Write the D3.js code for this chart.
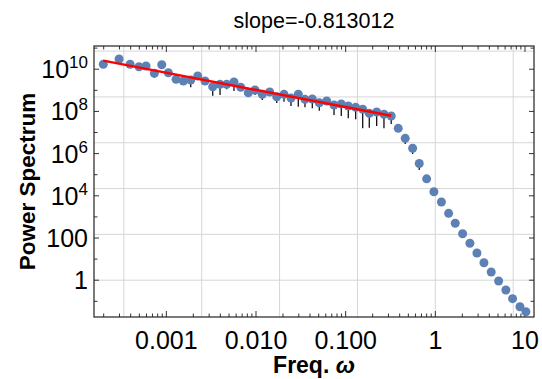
<!DOCTYPE html>
<html>
<head>
<meta charset="utf-8">
<script src="https://cdn.jsdelivr.net/npm/d3@7"></script>
<style>
  body { margin: 0; background: #fff; }
  text { font-family: "Liberation Sans", Arial, sans-serif; }
</style>
</head>
<body>
<div id="chart"></div>
<script>
// frequencies
var freq = [1.98e-4, 2.97e-4, 3.94e-4, 4.96e-4, 5.94e-4, 7.35e-4, 8.89e-4, 1.053e-3, 1.283e-3, 1.547e-3,
  1.871e-3, 2.239e-3, 2.70e-3, 3.29e-3, 3.97e-3, 4.71e-3, 5.68e-3, 6.75e-3, 8.20e-3, 9.75e-3,
  0.01175, 0.01421, 0.01702, 0.02052, 0.02455, 0.02962, 0.03517, 0.04244, 0.05079, 0.06141,
  0.07413, 0.08933, 0.1069, 0.1292, 0.1548, 0.1834, 0.2216, 0.2673, 0.3221, 0.3857,
  0.4616, 0.5582, 0.6615, 0.7998, 0.9638, 1.169, 1.406, 1.667, 2.015, 2.430,
  2.911, 3.483, 4.200, 5.08, 6.12, 7.27, 8.78, 10.23];

// power spectrum values
var power = [1.71e10, 3.04e10, 1.71e10, 1.31e10, 1.42e10, 6.40e9, 1.63e10, 6.82e9, 3.32e9, 2.76e9,
  3.08e9, 4.76e9, 2.76e9, 1.48e9, 1.92e9, 1.92e9, 2.47e9, 1.39e9, 7.69e8, 1.03e9,
  6.46e8, 8.30e8, 4.98e8, 6.46e8, 4.32e8, 6.53e8, 3.74e8, 3.87e8, 2.58e8, 3.11e8,
  2.01e8, 2.24e8, 1.80e8, 1.56e8, 1.26e8, 8.13e7, 9.37e7, 7.29e7, 6.05e7, 1.58e7,
  5.31e6, 1.80e6, 3.40e5, 6.39e4, 1.56e4, 5.08e3, 1.48e3, 498, 160, 56.1,
  19.5, 6.75, 2.45, 0.916, 0.343, 0.133, 0.0555, 0.0321];

// lower end of the error bars (null = hidden under the marker)
var errLow = [null, null, null, null, null, 3.95e9, null, null, null, null,
  1.39e9, null, null, 5.55e8, 5.99e8, 1.11e9, 9.27e8, null, null, 5.99e8,
  3.47e8, null, 2.50e8, 2.88e8, 1.80e8, 1.67e8, 1.56e8, 1.40e8, 1.08e8, 2.01e8,
  6.75e7, 6.05e7, 4.71e7, 4.22e7, 1.58e7, 1.69e7, 2.03e7, 1.58e7, 2.53e7, null,
  2.85e6, 9.57e5, 1.67e5, null, null, null, null, null, null, null,
  null, null, null, null, null, null, null, null];

// fitted power law
var slope = -0.813012;
var fitIntercept = 2.47e7;
var fitRange = [1.98e-4, 0.3221];

var xTickLabels = [[0.001, "0.001"], [0.01, "0.010"], [0.1, "0.100"], [1, "1"], [10, "10"]];
var yTickExp = [10, 8, 6, 4, 2, 0];

var width = 542, height = 379;
var margin = {top: 46, right: 8, bottom: 62, left: 94};
var pw = width - margin.left - margin.right;
var ph = height - margin.top - margin.bottom;

var svg = d3.select("#chart").append("svg")
    .attr("width", width)
    .attr("height", height);

var x = d3.scaleLog().domain([1.56e-4, 12.6]).range([0, pw]);
var y = d3.scaleLog().domain([Math.pow(10, -1.744), Math.pow(10, 11.1)]).range([ph, 0]);

var g = svg.append("g")
    .attr("transform", "translate(" + margin.left + "," + margin.top + ")");

// grid lines sit at powers of e, like the original
var gridX = [-8, -6, -4, -2, 0, 2].map(function(k){ return Math.exp(k); });
var gridY = [0, 5, 10, 15, 20, 25].map(function(k){ return Math.exp(k); });

g.selectAll(".gx").data(gridX.filter(function(d){ return x(d) > 0 && x(d) < pw; }))
  .enter().append("line")
    .attr("x1", function(d){ return x(d); })
    .attr("x2", function(d){ return x(d); })
    .attr("y1", 0).attr("y2", ph)
    .attr("stroke", "#d6d6d6").attr("stroke-width", 1);

g.selectAll(".gy").data(gridY.filter(function(d){ return y(d) > 0 && y(d) < ph; }))
  .enter().append("line")
    .attr("y1", function(d){ return y(d); })
    .attr("y2", function(d){ return y(d); })
    .attr("x1", 0).attr("x2", pw)
    .attr("stroke", "#d6d6d6").attr("stroke-width", 1);

// ticks on all four sides
var xMinor = [];
for (var e = -4; e <= 1; e++) {
  for (var m = 1; m <= 9; m++) {
    var v = m * Math.pow(10, e);
    if (x(v) >= 0 && x(v) <= pw) xMinor.push({v: v, major: m == 1});
  }
}
var yMinor = [];
for (var ey = -1; ey <= 11; ey++) {
  var vy = Math.pow(10, ey);
  if (y(vy) >= 0 && y(vy) <= ph) yMinor.push({v: vy, major: ey % 2 == 0});
}

var tickColor = "#333";
xMinor.forEach(function(t){
  var len = t.major ? 6 : 3.5;
  g.append("line").attr("x1", x(t.v)).attr("x2", x(t.v)).attr("y1", ph).attr("y2", ph - len)
    .attr("stroke", tickColor).attr("stroke-width", 1);
  g.append("line").attr("x1", x(t.v)).attr("x2", x(t.v)).attr("y1", 0).attr("y2", len)
    .attr("stroke", tickColor).attr("stroke-width", 1);
});
yMinor.forEach(function(t){
  var len = t.major ? 5 : 3.5;
  g.append("line").attr("y1", y(t.v)).attr("y2", y(t.v)).attr("x1", 0).attr("x2", len)
    .attr("stroke", tickColor).attr("stroke-width", 1);
  g.append("line").attr("y1", y(t.v)).attr("y2", y(t.v)).attr("x1", pw).attr("x2", pw - len)
    .attr("stroke", tickColor).attr("stroke-width", 1);
});

// frame
g.append("rect").attr("width", pw).attr("height", ph)
  .attr("fill", "none").attr("stroke", "#222").attr("stroke-width", 1.2);

// tick labels
g.selectAll(".xl").data(xTickLabels).enter().append("text")
    .attr("x", function(d){ return x(d[0]); })
    .attr("y", ph + 32)
    .attr("text-anchor", "middle")
    .style("font-size", "25px")
    .text(function(d){ return d[1]; });

yTickExp.forEach(function(ex){
  var t = g.append("text")
    .attr("x", -6)
    .attr("y", y(Math.pow(10, ex)) + 9)
    .attr("text-anchor", "end")
    .style("font-size", "25px");
  if (ex >= 4) {
    t.append("tspan").text("10");
    t.append("tspan").attr("dy", -10).style("font-size", "17px").text(ex);
  } else {
    t.text(ex == 2 ? "100" : "1");
  }
});

// error bars under the markers
var pts = freq.map(function(f, i){ return {f: f, p: power[i], lo: errLow[i]}; });

g.selectAll(".err").data(pts.filter(function(d){ return d.lo != null; }))
  .enter().append("line")
    .attr("x1", function(d){ return x(d.f); })
    .attr("x2", function(d){ return x(d.f); })
    .attr("y1", function(d){ return y(d.p); })
    .attr("y2", function(d){ return y(d.lo); })
    .attr("stroke", "#111").attr("stroke-width", 1.3);

g.selectAll(".dot").data(pts).enter().append("circle")
    .attr("cx", function(d){ return x(d.f); })
    .attr("cy", function(d){ return y(d.p); })
    .attr("r", 4.5)
    .attr("fill", "#5E81B5");

// fit line
var fitLine = d3.line()
    .x(function(d){ return x(d); })
    .y(function(d){ return y(fitIntercept * Math.pow(d, slope)); });
g.append("path").datum(fitRange)
    .attr("d", fitLine)
    .attr("fill", "none")
    .attr("stroke", "#f00")
    .attr("stroke-width", 2.4);

// titles
svg.append("text")
    .attr("x", margin.left + pw / 2)
    .attr("y", 28)
    .attr("text-anchor", "middle")
    .style("font-size", "21.5px")
    .text("slope=" + slope);

var xl = svg.append("text")
    .attr("x", margin.left + pw / 2)
    .attr("y", 373)
    .attr("text-anchor", "middle")
    .style("font-size", "23px")
    .style("font-weight", "bold");
xl.append("tspan").text("Freq. ");
xl.append("tspan").style("font-style", "italic").text("ω");

svg.append("text")
    .attr("transform", "translate(35," + (margin.top + ph / 2) + ") rotate(-90)")
    .attr("text-anchor", "middle")
    .style("font-size", "22.5px")
    .style("font-weight", "bold")
    .text("Power Spectrum");
</script>
</body>
</html>
